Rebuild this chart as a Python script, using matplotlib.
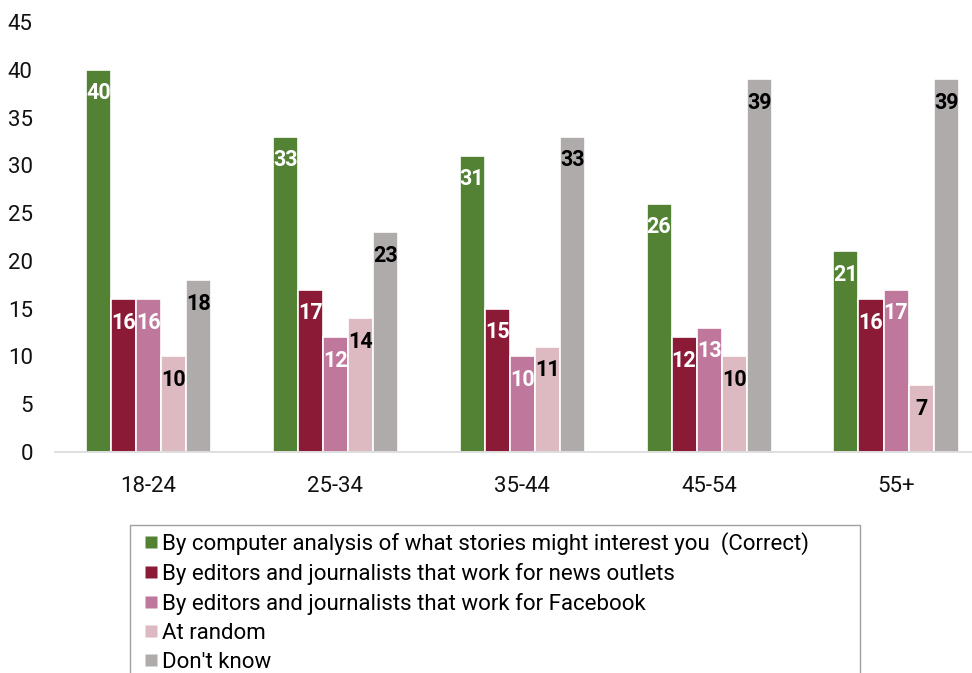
import matplotlib
matplotlib.use("Agg")
import matplotlib.pyplot as plt
from matplotlib.lines import Line2D
import numpy as np

plt.rcParams['font.family'] = ['Roboto', 'DejaVu Sans']

categories = ["18-24", "25-34", "35-44", "45-54", "55+"]
series_names = [
    "By computer analysis of what stories might interest you  (Correct)",
    "By editors and journalists that work for news outlets",
    "By editors and journalists that work for Facebook",
    "At random",
    "Don't know",
]
computer = [40, 33, 31, 26, 21]
news_outlets = [16, 17, 15, 12, 16]
facebook = [16, 12, 10, 13, 17]
at_random = [10, 14, 11, 10, 7]
dont_know = [18, 23, 33, 39, 39]
yticks = [0, 5, 10, 15, 20, 25, 30, 35, 40, 45]

series = [computer, news_outlets, facebook, at_random, dont_know]
colors = ["#548235", "#8B1A37", "#C0779C", "#DDB9C1", "#AFABAB"]
label_colors = ["white", "white", "white", "black", "black"]

fig = plt.figure(figsize=(9.72, 6.73), dpi=100)
ax = fig.add_axes([55/972, 1-452/673, 934.5/972, 430/673])

x = np.arange(len(categories))
bw = 0.134
for i, (vals, c, lc) in enumerate(zip(series, colors, label_colors)):
    pos = x + (i - 2) * bw
    bars = ax.bar(pos, vals, width=bw, color=c, edgecolor="white", linewidth=1.2, zorder=2)
    for b, v in zip(bars, vals):
        ax.annotate(str(v), (b.get_x() + b.get_width()/2, v), xytext=(0, -17),
                    textcoords="offset points", ha="center", va="center",
                    color=lc, fontsize=15.5, fontweight="bold", zorder=3)

ax.set_xlim(-0.5, len(categories) - 0.5)
ax.set_ylim(0, 45)
ax.set_yticks(yticks)
ax.set_xticks(x)
ax.set_xticklabels(categories)
ax.tick_params(axis="both", length=0, labelsize=16, colors="#111111")
ax.tick_params(axis="y", pad=16)
ax.tick_params(axis="x", pad=17)
for s in ["top", "right", "left"]:
    ax.spines[s].set_visible(False)
ax.spines["bottom"].set_color("#D9D9D9")
ax.spines["bottom"].set_linewidth(1.2)

handles = [Line2D([], [], linestyle="none", marker="s", markersize=8,
                  markerfacecolor=c, markeredgecolor="none") for c in colors]
leg = fig.legend(handles, series_names, loc="upper left",
                 bbox_to_anchor=(130/972, 1-525/673-0.01, 730/972, 0.01), mode="expand",
                 fontsize=16, frameon=True, fancybox=False,
                 handlelength=1.3, handletextpad=-0.15, labelspacing=0.36,
                 borderpad=0.3, borderaxespad=0)
leg.get_frame().set_edgecolor("#888888")
leg.get_frame().set_linewidth(1.0)

fig.savefig("out.png", dpi=100)
